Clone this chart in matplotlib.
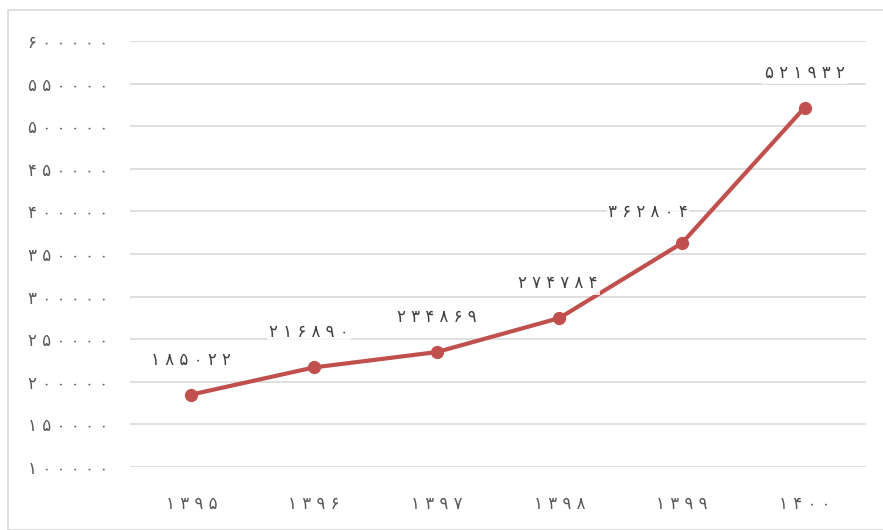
import matplotlib.pyplot as plt
from matplotlib.patches import Rectangle

# Data
years = ['1395', '1396', '1397', '1398', '1399', '1400']
users = [185022, 216890, 234869, 274784, 362804, 521932]
y_ticks = [100000, 150000, 200000, 250000, 300000, 350000, 400000, 450000, 500000, 550000, 600000]

# Persian digits, spread out like the original
fa_digits = str.maketrans('0123456789', '۰۱۲۳۴۵۶۷۸۹')

def to_fa(value):
    return ' '.join(str(value).translate(fa_digits))

fig = plt.figure(figsize=(8.83, 5.3), dpi=100)
ax = fig.add_axes([130 / 883, 1 - 467 / 530, (866 - 130) / 883, (467 - 41) / 530])

x = list(range(len(years)))
ax.plot(x, users, color='#c0504d', linewidth=3, marker='o', markersize=8.5, zorder=3)

# data labels (the 1399 one sits to the left)
offsets = [(0, 35), (-5, 35), (0, 35), (-2, 35), (-34, 31), (0, 35)]
for xi, val, off in zip(x, users, offsets):
    ax.annotate(to_fa(val), (xi, val), xytext=off, textcoords='offset pixels',
                ha='center', va='center', fontsize=12, color='#404040',
                family=['DejaVu Sans'],
                bbox=dict(boxstyle='square,pad=0.15', fc='white', ec='none', alpha=0.8),
                zorder=4)

ax.set_xlim(-0.5, len(years) - 0.5)
ax.set_ylim(100000, 600000)
ax.set_yticks(y_ticks)
ax.set_yticklabels([to_fa(t) for t in y_ticks])
ax.set_xticks(x)
ax.set_xticklabels([to_fa(y) for y in years])
ax.grid(axis='y', color='#d9d9d9', linewidth=1.2)
ax.set_axisbelow(True)
for s in ax.spines.values():
    s.set_visible(False)
ax.tick_params(axis='both', length=0, colors='#595959', labelsize=12)
ax.tick_params(axis='y', pad=16)
ax.tick_params(axis='x', pad=20)

# outer border of the chart
fig.patches.append(Rectangle((8 / 883, 0), 1.2, 1 - 10 / 530, transform=fig.transFigure,
                             fill=False, edgecolor='#d9d9d9', linewidth=1.2))

fig.savefig('out.png', dpi=100)
